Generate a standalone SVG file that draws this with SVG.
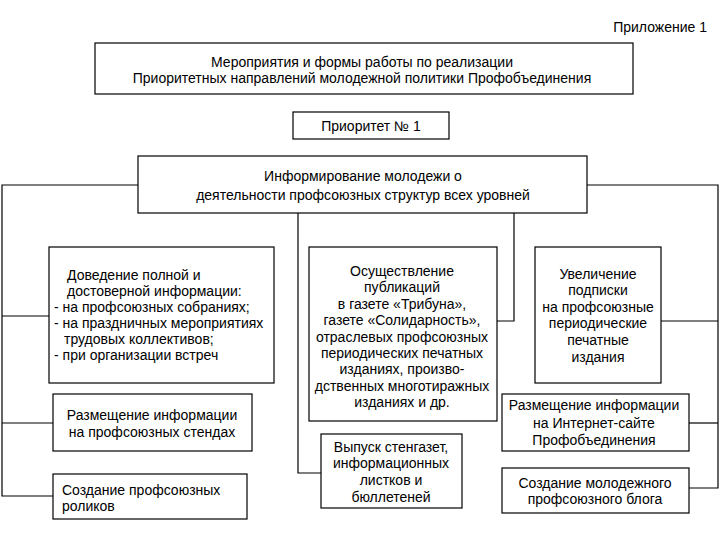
<svg xmlns="http://www.w3.org/2000/svg" width="720" height="540" viewBox="0 0 720 540">
<style>
.b{fill:#fff;stroke:#000;stroke-width:1.2}
.c{fill:none;stroke:#000;stroke-width:1.2}
text{font-family:"Liberation Sans",Arial,sans-serif;font-size:14px;fill:#000}
.m{text-anchor:middle}
</style>
<rect width="720" height="540" fill="#fff"/>
<text x="707" y="32" text-anchor="end">Приложение 1</text>
<g id="connectors">
<polyline class="c" points="138,185 2,185 2,496 53,496"/>
<line class="c" x1="2" y1="316" x2="49" y2="316"/>
<line class="c" x1="2" y1="423" x2="53" y2="423"/>
<polyline class="c" points="587,185 718,185 718,488 689,488"/>
<line class="c" x1="718" y1="321" x2="661" y2="321"/>
<line class="c" x1="718" y1="423" x2="689" y2="423"/>
<polyline class="c" points="514,213 514,321 497,321"/>
<polyline class="c" points="298,213 298,473 321,473"/>
</g>
<g id="title"><rect class="b" x="95" y="43" width="538" height="51"/>
<text class="m" x="362" y="67">Мероприятия и формы работы по реализации</text>
<text class="m" x="362" y="83">Приоритетных направлений молодежной политики Профобъединения</text></g>
<g id="priority"><rect class="b" x="293" y="112" width="156" height="27"/>
<text class="m" x="371" y="131">Приоритет № 1</text></g>
<g id="info"><rect class="b" x="138" y="156" width="449" height="57"/>
<text class="m" x="363" y="181">Информирование молодежи о</text>
<text class="m" x="363" y="200">деятельности профсоюзных структур всех уровней</text></g>
<g id="dovedenie"><rect class="b" x="49" y="247" width="225" height="136"/>
<text x="67" y="280">Доведение полной и</text>
<text x="67" y="296">достоверной информации:</text>
<text x="54" y="312">- на профсоюзных собраниях;</text>
<text x="54" y="328">- на праздничных мероприятиях</text>
<text x="64" y="344">трудовых коллективов;</text>
<text x="54" y="360">- при организации встреч</text></g>
<g id="stendy"><rect class="b" x="53" y="394" width="199" height="57"/>
<text class="m" x="152" y="420">Размещение информации</text>
<text class="m" x="152" y="437">на профсоюзных стендах</text></g>
<g id="roliki"><rect class="b" x="53" y="474" width="194" height="45"/>
<text x="62" y="495">Создание профсоюзных</text>
<text x="62" y="511">роликов</text></g>
<g id="publikacii"><rect class="b" x="309" y="247" width="188" height="174"/>
<text class="m" x="402" y="276">Осуществление</text>
<text class="m" x="402" y="292">публикаций</text>
<text class="m" x="402" y="309">в газете «Трибуна»,</text>
<text class="m" x="402" y="325">газете «Солидарность»,</text>
<text class="m" x="402" y="342">отраслевых профсоюзных</text>
<text class="m" x="402" y="358">периодических печатных</text>
<text class="m" x="402" y="374">изданиях, произво-</text>
<text class="m" x="402" y="391">дственных многотиражных</text>
<text class="m" x="402" y="407">изданиях и др.</text></g>
<g id="stengazety"><rect class="b" x="321" y="434" width="141" height="74"/>
<text class="m" x="391" y="452">Выпуск стенгазет,</text>
<text class="m" x="391" y="468">информационных</text>
<text class="m" x="391" y="485">листков и</text>
<text class="m" x="391" y="502">бюллетеней</text></g>
<g id="podpiska"><rect class="b" x="535" y="247" width="126" height="136"/>
<text class="m" x="598" y="279">Увеличение</text>
<text class="m" x="598" y="295">подписки</text>
<text class="m" x="598" y="312">на профсоюзные</text>
<text class="m" x="598" y="328">периодические</text>
<text class="m" x="598" y="345">печатные</text>
<text class="m" x="598" y="362">издания</text></g>
<g id="internet"><rect class="b" x="502" y="394" width="187" height="57"/>
<text class="m" x="594" y="410">Размещение информации</text>
<text class="m" x="594" y="428">на Интернет-сайте</text>
<text class="m" x="594" y="445">Профобъединения</text></g>
<g id="blog"><rect class="b" x="502" y="468" width="187" height="45"/>
<text class="m" x="595" y="488">Создание молодежного</text>
<text class="m" x="595" y="504">профсоюзного блога</text></g>
</svg>
